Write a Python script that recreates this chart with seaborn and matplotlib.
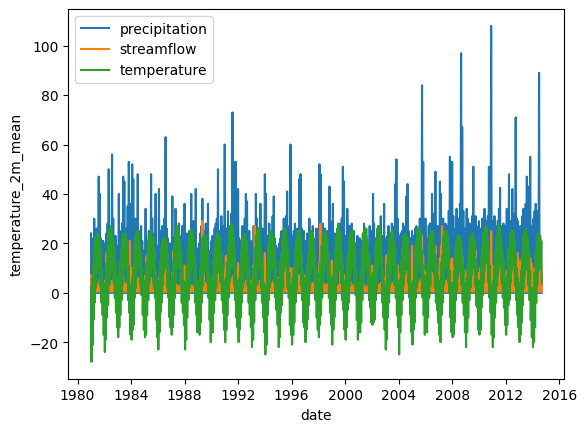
import matplotlib
matplotlib.use("Agg")
import matplotlib.pyplot as plt
import seaborn as sns
import pandas as pd

start, end = "1981-01-01", "2014-09-30"

# temperature_2m_mean: monthly top of the band (Jan..Dec), one row per year
temp_hi = [
    [2, 6, 11, 18, 22, 23, 24, 23, 21, 17, 10, 4],
    [1, 4, 12, 19, 24, 26, 27, 25, 22, 18, 12, 6],
    [4, 7, 13, 17, 22, 24, 24, 24, 21, 17, 11, 3],
    [3, 6, 10, 19, 23, 25, 25, 25, 20, 16, 10, 5],
    [2, 5, 12, 20, 23, 24, 25, 23, 22, 17, 9, 3],
    [3, 5, 13, 18, 21, 22, 22, 22, 20, 16, 10, 4],
    [4, 7, 13, 20, 24, 27, 27, 25, 21, 16, 11, 5],
    [2, 4, 11, 18, 23, 25, 25, 25, 21, 15, 11, 4],
    [5, 3, 10, 17, 22, 23, 23, 23, 21, 17, 9, 1],
    [6, 7, 13, 18, 21, 24, 24, 23, 22, 16, 12, 5],
    [3, 6, 12, 19, 25, 27, 28, 27, 22, 17, 10, 5],
    [4, 6, 11, 17, 22, 23, 24, 22, 21, 15, 10, 4],
    [3, 2, 10, 18, 23, 25, 26, 26, 20, 14, 10, 4],
    [0, 3, 12, 19, 22, 25, 24, 23, 22, 17, 12, 6],
    [5, 4, 13, 16, 22, 25, 26, 26, 20, 18, 8, 3],
    [3, 6, 9, 17, 21, 24, 25, 25, 22, 16, 9, 6],
    [3, 7, 11, 16, 21, 25, 25, 24, 22, 17, 10, 5],
    [6, 8, 12, 19, 24, 24, 24, 24, 22, 16, 11, 6],
    [2, 7, 11, 18, 23, 26, 28, 25, 23, 16, 12, 5],
    [3, 8, 14, 17, 23, 24, 25, 25, 21, 18, 9, 1],
    [4, 5, 9, 18, 24, 25, 26, 26, 21, 16, 13, 7],
    [7, 8, 11, 19, 21, 26, 27, 26, 24, 15, 9, 5],
    [1, 3, 12, 17, 22, 24, 25, 25, 21, 18, 11, 5],
    [0, 5, 13, 18, 23, 23, 24, 23, 22, 17, 11, 4],
    [3, 5, 9, 19, 21, 26, 26, 26, 24, 17, 11, 3],
    [7, 5, 11, 19, 23, 25, 25, 25, 20, 15, 12, 7],
    [5, 2, 12, 15, 23, 25, 25, 25, 23, 19, 9, 3],
    [4, 4, 9, 18, 21, 23, 23, 23, 21, 15, 10, 4],
    [1, 6, 12, 18, 22, 23, 24, 23, 21, 14, 12, 5],
    [4, 5, 15, 19, 24, 25, 27, 26, 22, 17, 11, 3],
    [2, 5, 10, 17, 22, 26, 28, 26, 22, 17, 13, 6],
    [5, 7, 18, 17, 24, 25, 25, 25, 21, 16, 10, 6],
    [3, 4, 9, 15, 23, 25, 26, 24, 22, 17, 9, 2],
    [1, 2, 8, 17, 22, 24, 23, 23, 21],
]

# temperature_2m_mean: monthly bottom of the band (Jan..Dec)
temp_lo = [
    [-28, -21, -11, -4, 2, 8, 11, 10, 3, -4, -9, -17],
    [-24, -19, -10, -5, 3, 7, 12, 9, 4, -2, -8, -14],
    [-18, -14, -9, -3, 3, 9, 12, 11, 4, -3, -8, -17],
    [-19, -15, -13, -2, 2, 9, 11, 11, 3, -1, -9, -15],
    [-18, -17, -9, -3, 4, 7, 11, 10, 2, -2, -11, -18],
    [-23, -16, -8, -4, 3, 8, 10, 10, 2, -2, -10, -14],
    [-17, -14, -9, -2, 4, 10, 12, 10, 3, -4, -8, -13],
    [-23, -19, -10, -3, 2, 8, 12, 11, 3, -4, -9, -16],
    [-15, -17, -12, -4, 3, 8, 11, 10, 4, -2, -11, -20],
    [-13, -16, -8, -3, 2, 8, 11, 11, 4, -3, -8, -15],
    [-20, -15, -9, -2, 5, 10, 13, 11, 3, -3, -10, -14],
    [-20, -15, -10, -4, 2, 7, 10, 9, 3, -4, -9, -14],
    [-22, -19, -12, -3, 3, 8, 12, 11, 2, -4, -10, -16],
    [-25, -21, -9, -3, 2, 9, 12, 10, 4, -2, -7, -13],
    [-22, -18, -8, -5, 2, 9, 12, 11, 2, -2, -13, -17],
    [-21, -17, -12, -4, 1, 8, 11, 11, 3, -3, -12, -14],
    [-20, -15, -11, -5, 1, 8, 11, 10, 4, -3, -10, -15],
    [-18, -13, -9, -2, 4, 9, 12, 12, 5, -2, -8, -13],
    [-21, -15, -10, -3, 3, 9, 13, 10, 4, -3, -7, -15],
    [-19, -14, -7, -4, 3, 8, 11, 11, 3, -1, -11, -19],
    [-16, -16, -12, -3, 4, 9, 11, 12, 3, -3, -6, -12],
    [-13, -12, -11, -3, 1, 10, 13, 12, 6, -4, -10, -15],
    [-23, -19, -10, -4, 3, 8, 12, 11, 3, -2, -9, -14],
    [-25, -16, -9, -3, 3, 8, 11, 10, 4, -2, -9, -16],
    [-21, -15, -12, -2, 2, 9, 13, 12, 5, -2, -9, -17],
    [-14, -16, -10, -2, 3, 9, 12, 11, 2, -4, -7, -12],
    [-17, -20, -9, -4, 3, 9, 11, 10, 4, 0, -10, -16],
    [-18, -17, -12, -3, 1, 8, 11, 9, 3, -4, -9, -16],
    [-22, -16, -10, -3, 2, 7, 10, 10, 3, -5, -6, -15],
    [-17, -15, -6, -1, 4, 9, 13, 12, 4, -2, -8, -17],
    [-22, -18, -10, -4, 3, 9, 13, 11, 4, -2, -6, -13],
    [-17, -13, -5, -3, 4, 9, 12, 11, 3, -3, -9, -14],
    [-20, -17, -12, -5, 2, 9, 12, 10, 3, -3, -11, -18],
    [-22, -20, -14, -4, 3, 9, 11, 11, 4],
]

# precipitation: wettest day of each month (Jan..Dec), dry days drop to 0
precip_hi = [
    [24, 16, 22, 30, 18, 26, 20, 47, 40, 22, 17, 21],
    [15, 20, 24, 28, 50, 27, 19, 56, 30, 18, 23, 16],
    [19, 40, 25, 21, 28, 47, 45, 22, 26, 35, 53, 36],
    [28, 52, 46, 22, 30, 20, 48, 25, 19, 27, 21, 17],
    [16, 34, 21, 18, 25, 22, 48, 30, 20, 24, 40, 17],
    [19, 42, 25, 20, 27, 21, 30, 63, 26, 22, 20, 18],
    [20, 39, 22, 16, 34, 19, 25, 28, 18, 23, 27, 17],
    [36, 17, 24, 20, 25, 18, 40, 26, 29, 21, 42, 18],
    [16, 20, 24, 27, 38, 25, 20, 28, 26, 36, 17, 15],
    [21, 23, 18, 26, 28, 30, 50, 25, 22, 31, 24, 27],
    [60, 24, 26, 33, 22, 27, 32, 73, 53, 34, 53, 24],
    [42, 22, 19, 21, 27, 24, 30, 40, 37, 20, 25, 21],
    [18, 21, 27, 23, 40, 30, 22, 26, 36, 21, 26, 24],
    [48, 40, 20, 23, 28, 24, 22, 31, 39, 22, 19, 18],
    [17, 20, 22, 25, 20, 30, 26, 31, 41, 23, 27, 60],
    [23, 19, 25, 28, 21, 26, 22, 46, 48, 26, 21, 25],
    [21, 18, 24, 22, 30, 19, 23, 27, 20, 21, 26, 18],
    [26, 52, 48, 22, 28, 21, 26, 22, 25, 23, 43, 29],
    [22, 36, 20, 24, 19, 22, 27, 28, 24, 30, 51, 45],
    [23, 19, 34, 21, 27, 23, 28, 22, 25, 20, 19, 23],
    [19, 22, 17, 21, 24, 28, 21, 23, 20, 19, 27, 17],
    [25, 40, 28, 22, 21, 24, 27, 25, 31, 21, 23, 36],
    [19, 22, 23, 27, 24, 20, 28, 23, 27, 44, 54, 30],
    [20, 23, 24, 25, 28, 22, 27, 39, 44, 25, 22, 22],
    [25, 19, 23, 26, 27, 24, 22, 30, 25, 84, 53, 25],
    [30, 22, 21, 27, 28, 23, 40, 32, 29, 49, 24, 27],
    [22, 45, 40, 23, 30, 24, 28, 25, 27, 33, 55, 40],
    [53, 31, 24, 26, 34, 26, 30, 36, 97, 67, 33, 26],
    [22, 34, 30, 24, 28, 27, 31, 51, 25, 31, 27, 24],
    [29, 26, 22, 30, 27, 34, 25, 29, 31, 51, 42, 108],
    [29, 27, 31, 24, 27, 29, 34, 42.5, 25, 27, 28, 26],
    [27, 34, 31, 48, 29, 26, 42, 25, 32, 71, 30, 29],
    [24, 27, 25, 31, 34, 27, 36, 47, 31, 43, 55, 27],
    [25, 30, 33, 36, 28, 33, 89, 18, 6],
]
precip_floor = 0.0

# streamflow: monthly peak (Jan..Dec), recedes to a low base flow
flow_hi = [
    [7, 4, 6, 9, 5, 3, 2, 4, 6, 3, 4, 3],
    [3, 5, 16, 12, 8, 3, 2, 5, 3, 2, 4, 3],
    [4, 6, 9, 12, 18, 7, 4, 3, 3, 6, 13, 21],
    [9, 10, 8, 11, 7, 4, 6, 3, 2, 4, 3, 3],
    [4, 7, 15, 8, 5, 3, 6, 3, 2, 5, 8, 3],
    [3, 6, 9, 15, 7, 3, 3, 9, 4, 3, 4, 3],
    [4, 8, 17, 12, 4, 3, 2, 3, 2, 3, 5, 4],
    [11, 5, 6, 9, 5, 2, 3, 2, 3, 2, 6, 3],
    [3, 4, 8, 10, 29, 9, 4, 3, 3, 6, 3, 2],
    [4, 5, 9, 7, 6, 5, 13, 4, 3, 5, 6, 8],
    [9, 15, 8, 9, 5, 3, 4, 6, 7, 5, 8, 6],
    [12, 6, 8, 7, 4, 3, 3, 5, 4, 3, 5, 4],
    [5, 4, 11, 27, 12, 5, 3, 3, 5, 3, 4, 9],
    [16, 8, 7, 6, 4, 3, 3, 4, 5, 3, 3, 4],
    [6, 5, 8, 6, 5, 4, 15, 5, 4, 3, 5, 10],
    [8, 6, 10, 9, 6, 4, 3, 7, 7, 4, 5, 6],
    [7, 5, 8, 7, 5, 3, 3, 4, 3, 3, 4, 5],
    [6, 12, 28, 11, 6, 4, 3, 3, 3, 4, 8, 5],
    [13, 8, 6, 7, 4, 3, 3, 3, 9, 4, 8, 7],
    [5, 4, 8, 6, 5, 4, 3, 3, 3, 3, 3, 4],
    [3, 4, 5, 6, 4, 3, 2, 2, 3, 3, 3, 3],
    [11, 8, 7, 6, 4, 3, 3, 3, 4, 3, 4, 5],
    [6, 15, 9, 7, 5, 4, 3, 4, 3, 4, 8, 11],
    [6, 7, 8, 5, 4, 3, 4, 7, 9, 6, 5, 8],
    [19, 9, 7, 5, 4, 3, 3, 5, 6, 23, 15, 9],
    [8, 7, 6, 5, 4, 4, 8, 7, 6, 19, 9, 8],
    [7, 14, 19, 27, 6, 4, 4, 5, 5, 6, 13, 12],
    [14, 10, 8, 6, 15, 5, 5, 7, 19, 15, 9, 7],
    [6, 9, 8, 6, 5, 4, 5, 10, 7, 17, 9, 8],
    [7, 10, 7, 6, 5, 7, 21, 6, 7, 11, 12, 25],
    [11, 9, 8, 6, 5, 4, 6, 11, 6, 7, 8, 7],
    [6, 9, 8, 10, 6, 5, 17, 6, 7, 16, 9, 16],
    [8, 13, 9, 7, 6, 5, 6, 9, 7, 8, 14, 12],
    [8, 9, 10, 8, 6, 9, 19, 9, 6],
]
flow_floor = 0.5


def zigzag(tops, bottoms):
    # first half of each month at the top value, second half at the bottom
    out = []
    for row_t, row_b in zip(tops, bottoms):
        for t, b in zip(row_t, row_b):
            out += [t, b]
    return out


def flat(rows, value):
    return [[value] * len(r) for r in rows]


dates = pd.date_range(start, end, freq="SMS")

df = pd.DataFrame({
    "date": dates,
    "total_precipitation_sum": zigzag(precip_hi, flat(precip_hi, precip_floor)),
    "streamflow": zigzag(flow_hi, flat(flow_hi, flow_floor)),
    "temperature_2m_mean": zigzag(temp_hi, temp_lo),
})

fig, ax = plt.subplots(figsize=(6.4, 4.8), dpi=100)
sns.lineplot(data=df, x="date", y="total_precipitation_sum", label="precipitation", ax=ax)
sns.lineplot(data=df, x="date", y="streamflow", label="streamflow", ax=ax)
sns.lineplot(data=df, x="date", y="temperature_2m_mean", label="temperature", ax=ax)
ax.set_ylabel("temperature_2m_mean")
ax.legend(loc="upper left")

fig.savefig("out.png", dpi=100, bbox_inches="tight")
